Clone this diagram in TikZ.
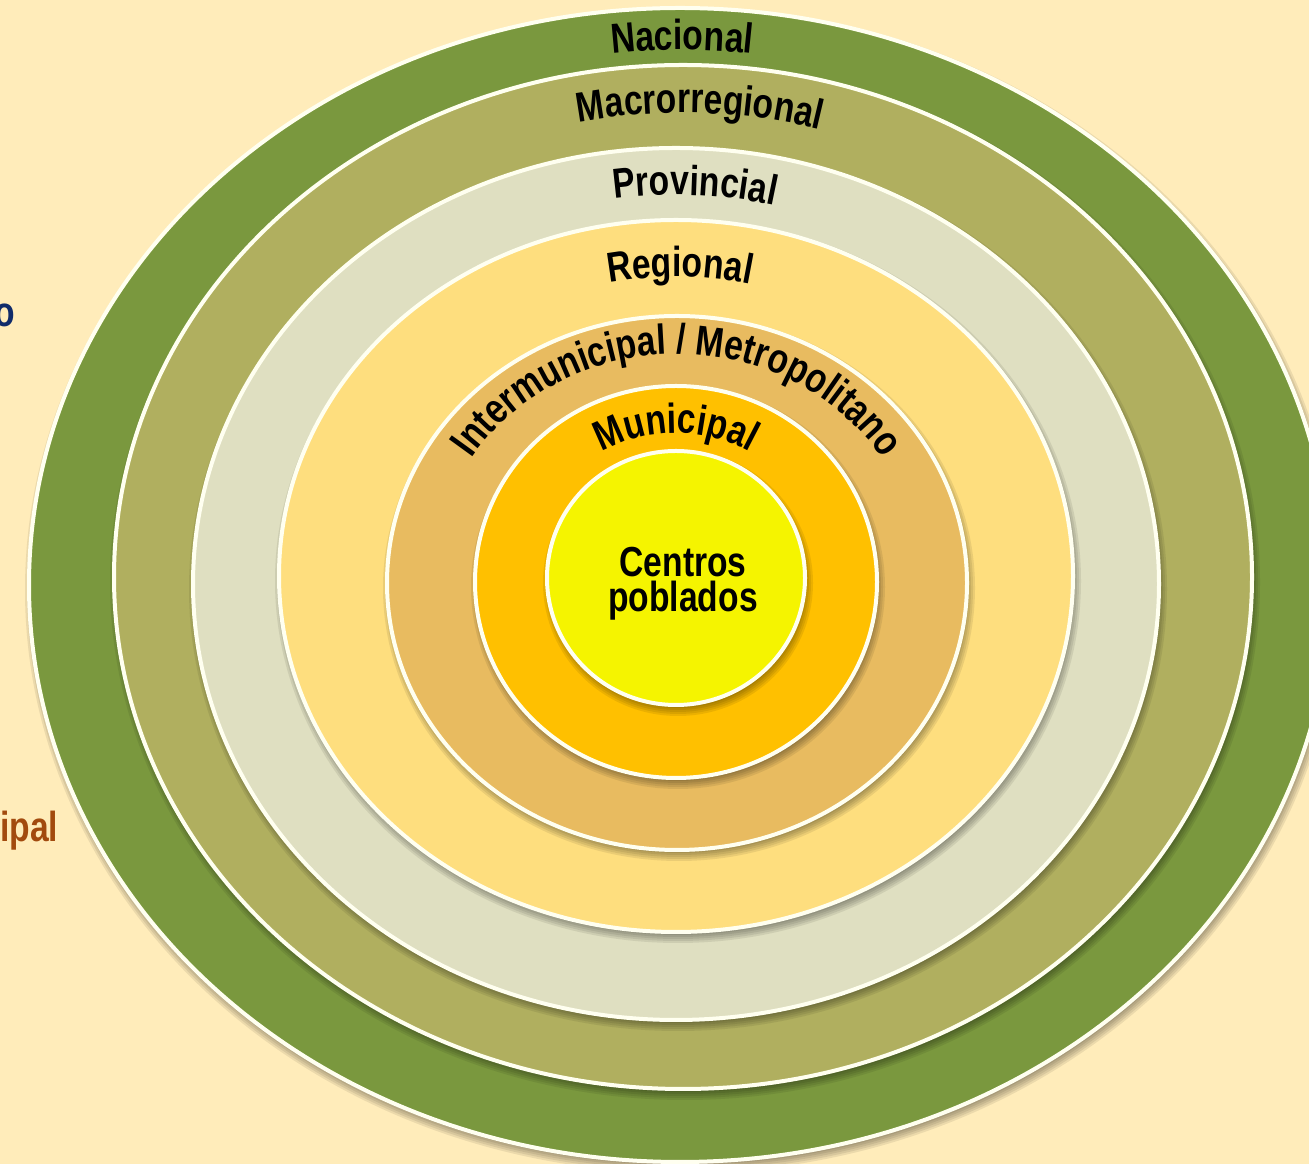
\documentclass[tikz,border=0pt]{standalone}
\usepackage{fontspec}
\usetikzlibrary{decorations.text}
\newfontfamily\labfont[FakeStretch=0.8]{Liberation Sans}
\newcommand\lbl{\labfont\bfseries\fontsize{42}{35}\selectfont}
\definecolor{bgc}{HTML}{FFECBA}
\definecolor{cnac}{HTML}{7A983E}
\definecolor{cmac}{HTML}{B0AF5F}
\definecolor{cprov}{HTML}{DFDFC1}
\definecolor{creg}{HTML}{FEDE7E}
\definecolor{cint}{HTML}{E8BB60}
\definecolor{cmun}{HTML}{FFC000}
\definecolor{ccen}{HTML}{F5F400}
\definecolor{rim}{HTML}{FFFFF0}
\definecolor{navy}{HTML}{102B6A}
\definecolor{rust}{HTML}{A24A0E}
\tikzset{
  rimline/.style={draw=rim, line width=4},
  arclabel/.style={decorate, decoration={text along path, text align=center, text color=black}},
}
% cx cy rx ry colour
\newcommand\myring[5]{%
  \foreach \k in {-2,0,2,4,6}{%
    \fill[black,opacity=0.08] ({#1+2},{#2-5}) ellipse [x radius={#3+\k}, y radius={#4+\k}];
  }
  \fill[#5] (#1,#2) ellipse [x radius=#3, y radius=#4];
  \draw[rimline] (#1,#2) ellipse [x radius=#3, y radius=#4];
}
\begin{document}
\begin{tikzpicture}[x=1pt,y=1pt]
\useasboundingbox (0,0) rectangle (1309,1164);
\clip (0,0) rectangle (1309,1164);
\fill[bgc] (0,0) rectangle (1309,1164);

% partial side texts
\node[anchor=base east, inner sep=0, text=navy, font=\lbl] (sideo) at (15,837) {o};
\node[anchor=base west, inner sep=0, text=rust, font=\lbl] (sideipal) at (0,322) {ipal};

% rings
\myring{680}{579}{651}{577}{cnac}
\myring{683}{587}{569}{512}{cmac}
\myring{676}{580}{483}{436}{cprov}
\myring{676}{588}{397}{356}{creg}
\myring{677}{581}{290}{267}{cint}
\myring{676}{582}{201}{196}{cmun}
\myring{676}{586}{129}{127}{ccen}

% curved labels
\path[arclabel, decoration={text={|\lbl|Nacional}}]
  (682,579) ++(150:588 and 535) arc[start angle=150, end angle=30, x radius=588, y radius=535];
\path[arclabel, decoration={text={|\lbl|Macrorregional}}]
  (683,587) ++(148:519 and 464) arc[start angle=148, end angle=28, x radius=519, y radius=464];
\path[arclabel, decoration={text={|\lbl|Provincial}}]
  (676,580) ++(147.3:425 and 389) arc[start angle=147.3, end angle=27.3, x radius=425, y radius=389];
\path[arclabel, decoration={text={|\lbl|Regional}}]
  (676,588) ++(149.3:336 and 299) arc[start angle=149.3, end angle=29.3, x radius=336, y radius=299];
\path[arclabel, decoration={text={|\lbl|Intermunicipal / Metropolitano}}]
  (677,581) ++(170:245 and 229) arc[start angle=170, end angle=10, x radius=245, y radius=229];
\path[arclabel, decoration={text={|\lbl|Municipal}}]
  (676,582) ++(170:151 and 149) arc[start angle=170, end angle=10, x radius=151, y radius=149];

\node[font=\lbl, align=center, inner sep=0] (centros) at (683,580) {Centros\\poblados};
\end{tikzpicture}
\end{document}
